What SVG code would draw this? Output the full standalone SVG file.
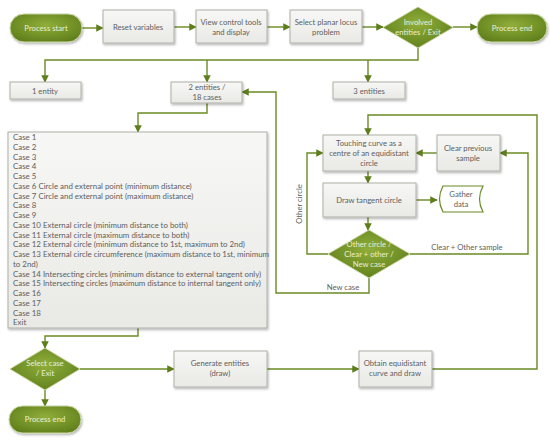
<svg xmlns="http://www.w3.org/2000/svg" width="550" height="440" viewBox="0 0 550 440">
<defs>
<radialGradient id="gp" cx="50%" cy="40%" r="65%"><stop offset="0" stop-color="#8fae3a"/><stop offset="1" stop-color="#5f7e1b"/></radialGradient>
<linearGradient id="gb" x1="0" y1="0" x2="0" y2="1"><stop offset="0" stop-color="#f7f7f5"/><stop offset="1" stop-color="#e9e9e6"/></linearGradient>
<filter id="sh" x="-10%" y="-10%" width="130%" height="140%"><feDropShadow dx="1" dy="1.5" stdDeviation="1" flood-color="#000" flood-opacity="0.3"/></filter>
<marker id="ar" viewBox="0 0 10 10" refX="9" refY="5" markerWidth="7.5" markerHeight="7.5" markerUnits="userSpaceOnUse" orient="auto"><path d="M0,0 L10,5 L0,10 Z" fill="#5e7d1c"/></marker>
<style>
.c{fill:none;stroke:#6a8a25;stroke-width:1.4;}
.a{marker-end:url(#ar);}
.b{fill:url(#gb);stroke:#b0b0a8;stroke-width:1;filter:url(#sh);}
.p{fill:url(#gp);stroke:#c9d6a4;stroke-width:1;filter:url(#sh);}
.d{fill:url(#gp);stroke:#c9d6a4;stroke-width:0.8;}
text{font-family:Lato,"Open Sans","Liberation Sans",sans-serif;font-size:7.7px;fill:#606060;}
.m{text-anchor:middle;}
.w{fill:#e9eed6;}
.l{font-size:7.9px;fill:#606060;}
</style>
</defs>
<rect width="550" height="440" fill="#fff"/>
<g id="connectors">
<path class="c a" d="M82,28 H103"/>
<path class="c a" d="M174,27 H196"/>
<path class="c a" d="M267,27 H290"/>
<path class="c a" d="M362,27 H383"/>
<path class="c a" d="M453,27 H477"/>
<path class="c a" d="M418,48 V60 H45 V82"/>
<path class="c a" d="M207,60 V82"/>
<path class="c a" d="M368,60 V82"/>
<path class="c a" d="M207,103 V113 H138 V132"/>
<path class="c a" d="M138,328 V336 H45 V348"/>
<path class="c a" d="M45,390 V406"/>
<path class="c a" d="M80,369 H174"/>
<path class="c a" d="M267,369 H359"/>
<path class="c a" d="M432,369 H537 V115 H368 V135"/>
<path class="c a" d="M437,153 H416"/>
<path class="c a" d="M368,171 V183"/>
<path class="c a" d="M416,200 H437"/>
<path class="c a" d="M368,217 V230"/>
<path class="c a" d="M328,254 H307 V153 H323"/>
<path class="c a" d="M410,254 H528 V153 H500"/>
<path class="c a" d="M369,278 V293 H276 V92 H242"/>
<text class="m" transform="translate(302,204) rotate(-90)">Other circle</text>
<text class="m" x="467" y="250">Clear + Other sample</text>
<text class="m" x="343" y="290">New case</text>
</g>
<g id="process-start"><rect class="p" x="10" y="14" width="72" height="28" rx="14"/><text class="m w" x="46" y="31">Process start</text></g>
<g id="reset-variables"><rect class="b" x="103" y="10" width="71" height="33"/><text class="m" x="138" y="30">Reset variables</text></g>
<g id="view-control"><rect class="b" x="196" y="10" width="71" height="33"/><text class="m" x="231" y="25">View control tools</text><text class="m" x="231" y="35">and display</text></g>
<g id="select-problem"><rect class="b" x="290" y="10" width="72" height="33"/><text class="m" x="326" y="25">Select planar locus</text><text class="m" x="326" y="35">problem</text></g>
<g id="involved-entities"><polygon class="d" points="418,7 453,27.5 418,48 383,27.5"/><text class="m w" x="418" y="25">Involved</text><text class="m w" x="418" y="35">entities / Exit</text></g>
<g id="process-end-top"><rect class="p" x="477" y="14" width="70" height="28" rx="14"/><text class="m w" x="512" y="31">Process end</text></g>
<g id="one-entity"><rect class="b" x="10" y="82" width="71" height="17"/><text class="m" x="45" y="93.5">1 entity</text></g>
<g id="two-entities"><rect class="b" x="171" y="82" width="71" height="21"/><text class="m" x="207" y="90">2 entities /</text><text class="m" x="207" y="100">18 cases</text></g>
<g id="three-entities"><rect class="b" x="333" y="82" width="72" height="17"/><text class="m" x="369" y="93.5">3 entities</text></g>
<g id="cases">
<rect class="b" x="8" y="132" width="259" height="196"/>
<text class="l" x="13" y="140">Case 1</text>
<text class="l" x="13" y="149.7">Case 2</text>
<text class="l" x="13" y="159.5">Case 3</text>
<text class="l" x="13" y="169.2">Case 4</text>
<text class="l" x="13" y="179">Case 5</text>
<text class="l" x="13" y="188.7">Case 6 Circle and external point (minimum distance)</text>
<text class="l" x="13" y="198.5">Case 7 Circle and external point (maximum distance)</text>
<text class="l" x="13" y="208.2">Case 8</text>
<text class="l" x="13" y="218">Case 9</text>
<text class="l" x="13" y="227.7">Case 10 External circle (minimum distance to both)</text>
<text class="l" x="13" y="237.5">Case 11 External circle (maximum distance to both)</text>
<text class="l" x="13" y="247.2">Case 12 External circle (minimum distance to 1st, maximum to 2nd)</text>
<text class="l" x="13" y="257">Case 13 External circle circumference (maximum distance to 1st, minimum</text>
<text class="l" x="13" y="266.7">to 2nd)</text>
<text class="l" x="13" y="276.5">Case 14 Intersecting circles (minimum distance to external tangent only)</text>
<text class="l" x="13" y="286.2">Case 15 Intersecting circles (maximum distance to internal tangent only)</text>
<text class="l" x="13" y="296">Case 16</text>
<text class="l" x="13" y="305.7">Case 17</text>
<text class="l" x="13" y="315.5">Case 18</text>
<text class="l" x="13" y="325.2">Exit</text>
</g>
<g id="select-case"><polygon class="d" points="45,348 80,369 45,390 10,369"/><text class="m w" x="45" y="366">Select case</text><text class="m w" x="45" y="376">/ Exit</text></g>
<g id="process-end-bottom"><rect class="p" x="9" y="406" width="72" height="27" rx="13.5"/><text class="m w" x="45" y="422">Process end</text></g>
<g id="generate-entities"><rect class="b" x="174" y="351" width="93" height="36"/><text class="m" x="220" y="366">Generate entities</text><text class="m" x="220" y="376">(draw)</text></g>
<g id="obtain-curve"><rect class="b" x="359" y="351" width="73" height="36"/><text class="m" x="395" y="366">Obtain equidistant</text><text class="m" x="395" y="376">curve and draw</text></g>
<g id="touching-curve"><rect class="b" x="323" y="135" width="93" height="36"/><text class="m" x="369" y="146">Touching curve as a</text><text class="m" x="369" y="156">centre of an equidistant</text><text class="m" x="369" y="166">circle</text></g>
<g id="clear-previous"><rect class="b" x="437" y="135" width="63" height="36"/><text class="m" x="468" y="151">Clear previous</text><text class="m" x="468" y="161">sample</text></g>
<g id="draw-tangent"><rect class="b" x="323" y="183" width="93" height="34"/><text class="m" x="369" y="203">Draw tangent circle</text></g>
<g id="gather-data"><path d="M443,186 H483 Q476,199 483,212 H443 Q436,199 443,186 Z" fill="#fff" stroke="#6a8a25" stroke-width="1.2"/><text class="m" x="461" y="197">Gather</text><text class="m" x="461" y="207">data</text></g>
<g id="other-circle"><polygon class="d" points="369,230 410,254 369,278 328,254"/><text class="m w" x="369" y="247">Other circle /</text><text class="m w" x="369" y="257">Clear + other /</text><text class="m w" x="369" y="267">New case</text></g>
</svg>
